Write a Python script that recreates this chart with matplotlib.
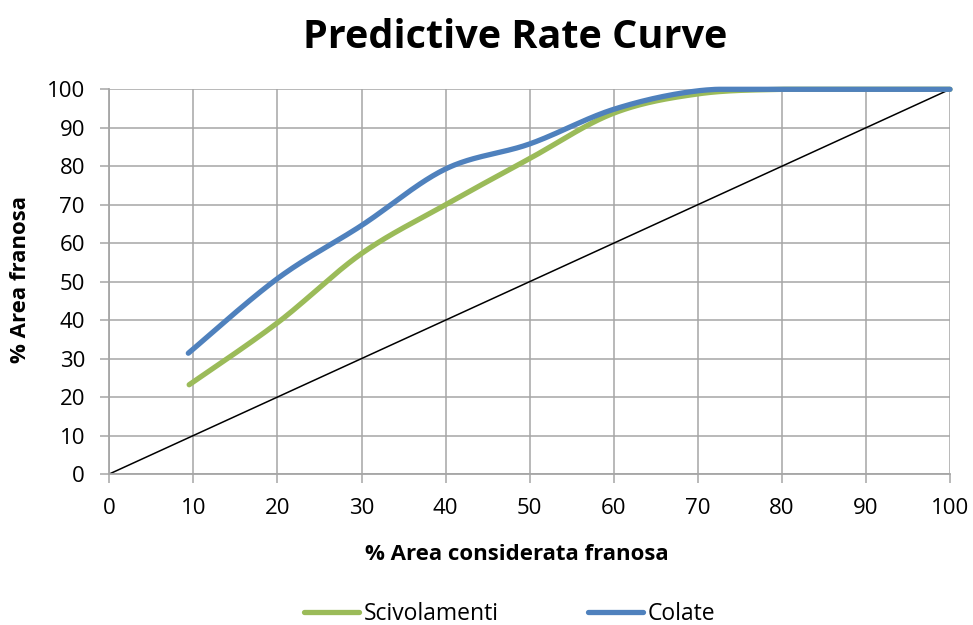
import numpy as np
import matplotlib
matplotlib.use("Agg")
import matplotlib.pyplot as plt

plt.rcParams['font.family'] = ['Open Sans', 'DejaVu Sans']

# Cumulative landslide area vs. area classified as susceptible
x_scivolamenti = [9.5, 20, 30, 40, 50, 60, 70, 80, 90, 100]
y_scivolamenti = [23.2, 39.3, 57.3, 70.0, 82.0, 93.8, 98.8, 100, 100, 100]

x_colate = [9.4, 20, 30, 40, 50, 60, 70, 80, 90, 100]
y_colate = [31.4, 50.8, 64.6, 79.3, 85.8, 94.8, 99.6, 100, 100, 100]

x_random = [0, 100]
y_random = [0, 100]

x_ticks = list(range(0, 101, 10))
y_ticks = list(range(0, 101, 10))

title = "Predictive Rate Curve"
x_label = "% Area considerata franosa"
y_label = "% Area franosa"
labels = ["Scivolamenti", "Colate"]
colors = ["#9BBB59", "#4F81BD"]


def smooth(xs, ys, n=40):
    """Cubic Bezier smoothing through every point (Catmull-Rom style)."""
    xs = np.asarray(xs, float)
    ys = np.asarray(ys, float)
    pts = np.column_stack([xs, ys])
    out = []
    for i in range(len(pts) - 1):
        p0 = pts[i - 1] if i > 0 else pts[i]
        p1 = pts[i]
        p2 = pts[i + 1]
        p3 = pts[i + 2] if i + 2 < len(pts) else pts[i + 1]
        c1 = p1 + (p2 - p0) / 6.0
        c2 = p2 - (p3 - p1) / 6.0
        t = np.linspace(0, 1, n)[:, None]
        seg = ((1 - t) ** 3) * p1 + 3 * ((1 - t) ** 2) * t * c1 + 3 * (1 - t) * t ** 2 * c2 + t ** 3 * p2
        out.append(seg if i == 0 else seg[1:])
    seg = np.vstack(out)
    return seg[:, 0], np.minimum(seg[:, 1], 100)


W, H = 973, 625
fig = plt.figure(figsize=(W / 100, H / 100), dpi=100)
ax = fig.add_axes([109.3 / W, 1 - 474 / H, (950 - 109.3) / W, (474 - 89.3) / H])

grid_c = "#A6A6A6"
ax.set_xlim(0, 100)
ax.set_ylim(0, 100)
ax.set_xticks(x_ticks)
ax.set_yticks(y_ticks)
ax.grid(True, color=grid_c, linewidth=1.1)
ax.set_axisbelow(True)
for side in ("top", "right"):
    ax.spines[side].set_visible(False)
for side in ("left", "bottom"):
    ax.spines[side].set_color(grid_c)
    ax.spines[side].set_linewidth(1.3)
ax.tick_params(axis="both", direction="out", length=6.5, width=1.1, color=grid_c,
               labelsize=16, pad=11, labelcolor="black")

ax.plot(x_random, y_random, color="black", linewidth=1.1, zorder=2)

series = [(x_scivolamenti, y_scivolamenti), (x_colate, y_colate)]
handles = []
for (xs, ys), lab, c in zip(series, labels, colors):
    sx, sy = smooth(xs, ys)
    h, = ax.plot(sx, sy, color=c, linewidth=3.8, solid_capstyle="round",
                 label=lab, zorder=3, clip_on=False)
    handles.append(h)

fig.text(516.5 / W, 1 - 555 / H, x_label, ha="center", va="center",
         fontsize=16, fontweight="bold")
fig.text(21 / W, 1 - 280 / H, y_label, ha="center", va="center", rotation=90,
         fontsize=16, fontweight="bold")
fig.text(515 / W, 1 - 37 / H, title, ha="center", va="center", fontsize=28.5, fontweight="bold")

fig.legend(handles=handles, labels=labels, loc="center", bbox_to_anchor=(510 / W, 1 - 614 / H),
           ncol=2, frameon=False, fontsize=16.5, handlelength=2.4, handletextpad=0.2,
           columnspacing=3.9)

fig.savefig("out.png", dpi=100)
